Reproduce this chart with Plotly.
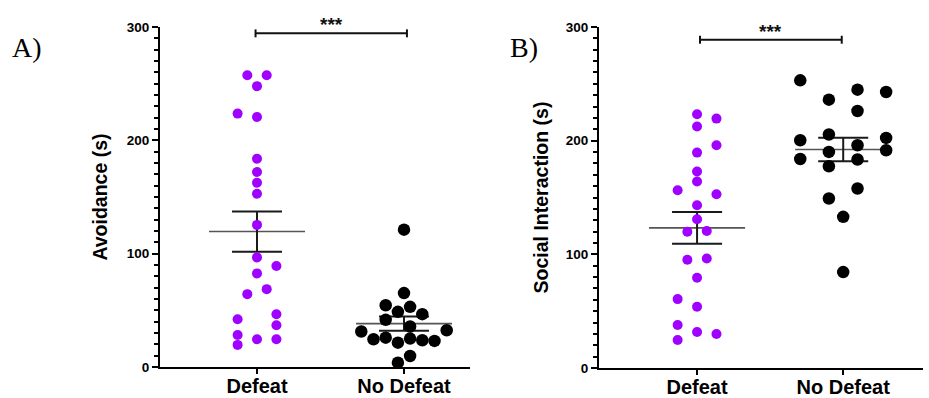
import plotly.graph_objects as go

# ---------------- data ----------------
categories = ["Defeat", "No Defeat"]
y_ticks = [0, 100, 200, 300]

# Panel A: Avoidance (s)
avoid_defeat = [257.5, 257.5, 247.8, 223.6, 220.6, 183.8, 172.0, 162.6, 152.8, 125.4, 96.7,
                89.1, 82.6, 68.7, 64.3, 42.2, 46.6, 36.9, 28.3, 24.5, 24.5, 19.5]
avoid_defeat_slot = [-1, 1, 0, -2, 0, 0, 0, 0, 0, 0, 0, 2, 0, 1, -1, -2, 2, 2, -2, 0, 2, -2]
avoid_nodefeat = [121.2, 65.2, 54.5, 53.1, 48.7, 46.6, 41.6, 35.7, 31.3, 32.4, 24.5, 25.9,
                  21.5, 25.1, 23.6, 23.0, 9.7, 3.8]
avoid_nodefeat_slot = [0, 0, -1.5, 0.5, -0.5, 1.5, -1.5, 0.5, -3.5, 3.5, -2.5, -1.5,
                       -0.5, 0.5, 1.5, 2.5, 0.5, -0.5]
avoid_mean = [119.5, 38.3]
avoid_sem = [17.7, 6.3]

# Panel B: Social Interaction (s)
social_defeat = [223.2, 219.4, 212.4, 196.0, 189.5, 172.8, 164.1, 156.4, 152.9, 143.2, 130.9,
                 119.8, 120.6, 95.2, 96.4, 79.4, 60.6, 53.9, 37.8, 31.6, 29.9, 24.6]
social_defeat_slot = [0, 2, 0, 2, 0, 0, 0, -2, 2, 0, 0, -1, 1, -1, 1, 0, -2, 0, -2, 0, 2, -2]
social_nodefeat = [253.1, 244.9, 242.8, 236.1, 226.1, 200.4, 205.4, 202.4, 196.0, 191.6, 190.1,
                   183.9, 183.4, 177.5, 157.9, 149.1, 133.0, 84.4]
social_nodefeat_slot = [-3, 1, 3, -1, 1, -3, -1, 3, 1, 3, -1, -3, 1, -1, 1, -1, 0, 0]
social_mean = [123.3, 192.2]
social_sem = [13.9, 10.3]

sig_label = "***"

# ---------------- style ----------------
W, H = 929, 398
PURPLE = "#A000FF"
BLACK = "#000000"
FONT = "Liberation Sans"

panels = [
    dict(xa="x", ya="y", xdom=[160 / W, 470 / W], ydom=[1 - 367 / H, 1 - 27 / H],
         xr=[-0.66, 1.449], px_per_cat=147.0,
         d=avoid_defeat, ds=avoid_defeat_slot, n=avoid_nodefeat, ns=avoid_nodefeat_slot,
         mean=avoid_mean, sem=avoid_sem, nslot_px=12.2,
         title="Avoidance (s)", sig_y=294.4, bx=[-0.01, 1.02], letter="A)", lx=10, standoff=14),
    dict(xa="x2", ya="y2", xdom=[599 / W, 923 / W], ydom=[1 - 368 / H, 1 - 27 / H],
         xr=[-0.671, 1.546], px_per_cat=146.0,
         d=social_defeat, ds=social_defeat_slot, n=social_nodefeat, ns=social_nodefeat_slot,
         mean=social_mean, sem=social_sem, nslot_px=14.3,
         title="Social Interaction (s)", sig_y=288.8, bx=[0.02, 0.99], letter="B)", lx=508, standoff=12),
]

fig = go.Figure()

for p in panels:
    ppc = p["px_per_cat"]
    dslot = 9.7 / ppc
    nslot = p["nslot_px"] / ppc
    # mean + SEM lines (behind points)
    for i in range(2):
        m, s = p["mean"][i], p["sem"][i]
        hw = 48 / ppc
        cw = 25 / ppc
        fig.add_trace(go.Scatter(x=[i - hw, i + hw], y=[m, m], mode="lines",
                                 line=dict(color="#555555", width=1.6),
                                 xaxis=p["xa"], yaxis=p["ya"], showlegend=False, hoverinfo="skip"))
        fig.add_trace(go.Scatter(x=[i - cw, i + cw, None, i - cw, i + cw, None, i, i],
                                 y=[m + s, m + s, None, m - s, m - s, None, m - s, m + s],
                                 mode="lines", line=dict(color="#1a1a1a", width=2),
                                 xaxis=p["xa"], yaxis=p["ya"], showlegend=False, hoverinfo="skip"))
    fig.add_trace(go.Scatter(x=[0 + k * dslot for k in p["ds"]], y=p["d"], mode="markers",
                             marker=dict(color=PURPLE, size=10, line=dict(width=0)),
                             xaxis=p["xa"], yaxis=p["ya"], showlegend=False, cliponaxis=False))
    fig.add_trace(go.Scatter(x=[1 + k * nslot for k in p["ns"]], y=p["n"], mode="markers",
                             marker=dict(color=BLACK, size=12.5, line=dict(width=0)),
                             xaxis=p["xa"], yaxis=p["ya"], showlegend=False, cliponaxis=False))
    # significance bracket
    b0, b1 = p["bx"]
    cap = 3.5
    sy = p["sig_y"]
    fig.add_trace(go.Scatter(x=[b0, b1, None, b0, b0, None, b1, b1],
                             y=[sy, sy, None, sy - cap, sy + cap, None, sy - cap, sy + cap],
                             mode="lines", line=dict(color="#111111", width=2),
                             xaxis=p["xa"], yaxis=p["ya"], showlegend=False, cliponaxis=False,
                             hoverinfo="skip"))
    fig.add_annotation(x=(b0 + b1) / 2, y=sy, xref=p["xa"], yref=p["ya"], text="<b>" + sig_label + "</b>",
                       showarrow=False, yanchor="bottom", yshift=-4,
                       font=dict(family=FONT, size=19, color="#111111"))
    fig.add_annotation(x=p["lx"] / W, y=1 - 47 / H, xref="paper", yref="paper", text=p["letter"],
                       showarrow=False, xanchor="left", yanchor="middle",
                       font=dict(family="Liberation Serif", size=28, color="#000000"))

axis_common = dict(showgrid=False, zeroline=False, showline=True, linecolor="#000000", linewidth=2,
                   ticks="outside", tickcolor="#000000", tickwidth=2, automargin=False)

for idx, p in enumerate(panels):
    sfx = "" if idx == 0 else "2"
    fig.update_layout(**{
        "xaxis" + sfx: dict(axis_common, domain=p["xdom"], range=p["xr"], anchor="y" + sfx,
                            tickvals=[0, 1], ticktext=categories, ticklen=5, ticklabelstandoff=-5,
                            tickfont=dict(family=FONT, size=20, color="#000000", weight="bold")),
        "yaxis" + sfx: dict(axis_common, domain=p["ydom"], range=[0, 300], anchor="x" + sfx,
                            tickvals=y_ticks, ticklen=6,
                            tickfont=dict(family=FONT, size=13.5, color="#000000", weight="bold"),
                            minor=dict(dtick=10, ticks="outside", ticklen=4, tickwidth=1.5,
                                       tickcolor="#000000"),
                            title=dict(text=p["title"], standoff=p["standoff"],
                                       font=dict(family=FONT, size=19.5, color="#000000", weight="bold"))),
    })

fig.update_layout(width=W, height=H, margin=dict(l=0, r=0, t=0, b=0),
                  paper_bgcolor="white", plot_bgcolor="white")

fig.write_html("out.html")
